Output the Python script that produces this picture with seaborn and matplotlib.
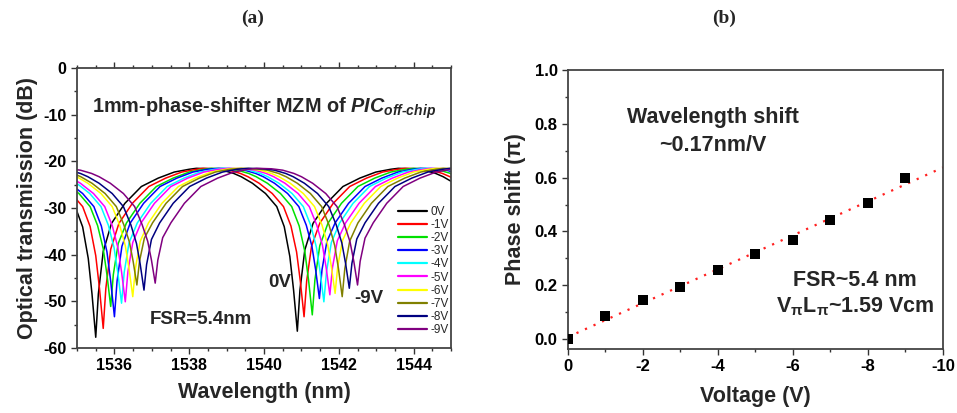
import numpy as np
import pandas as pd
import matplotlib
matplotlib.use("Agg")
import matplotlib.pyplot as plt
from matplotlib.ticker import MultipleLocator, FormatStrFormatter
import seaborn as sns

# bias voltages of the measured spectra
voltages = [0, -1, -2, -3, -4, -5, -6, -7, -8, -9]
labels = ["0V", "-1V", "-2V", "-3V", "-4V", "-5V", "-6V", "-7V", "-8V", "-9V"]
colors = ["#000000", "#ff0000", "#00e000", "#0000ff", "#00ffff",
          "#ff00ff", "#ffff00", "#808000", "#000080", "#800080"]

# notch positions / depths
dip1_nm = [1535.50, 1535.70, 1535.90, 1536.00, 1536.19, 1536.29, 1536.49, 1536.60, 1536.79, 1537.09]
dip1_db = [-57.7, -55.8, -51.1, -53.3, -50.4, -50.1, -49.0, -46.5, -47.6, -46.1]
dip2_nm = [1540.89, 1541.07, 1541.29, 1541.48, 1541.60, 1541.76, 1541.90, 1542.09, 1542.28, 1542.50]
dip2_db = [-56.4, -53.3, -52.9, -49.4, -50.1, -48.6, -48.3, -49.0, -47.2, -46.5]
fsr = 5.4

# notch profile (offset from notch in nm, level in dB)
prof_off = [-2.7, -2.3, -2.0, -1.7, -1.5, -1.2, -0.85, -0.55, -0.35, -0.2, -0.1,
            0.0, 0.07, 0.2, 0.42, 0.78, 1.22, 1.67, 2.1, 2.5]
prof_db = [-21.5, -21.6, -21.9, -22.6, -23.3, -24.7, -26.9, -29.7, -34.0, -40.4, -47.6,
           -56.4, -47.6, -39.0, -33.3, -29.0, -25.4, -23.6, -22.3, -21.7]

# panel (b): phase shift vs voltage
volt_b = [0, -1, -2, -3, -4, -5, -6, -7, -8, -9]
phase_b = [0.0, 0.084, 0.146, 0.193, 0.257, 0.317, 0.369, 0.442, 0.505, 0.598]


def notch(center, depth):
    off = np.array(prof_off)
    lev = np.array(prof_db)
    thr = -33.0
    k = (depth - thr) / (lev.min() - thr)
    lev = np.where(lev < thr, thr + (lev - thr) * k, lev)
    return center + off, lev


rows = []
for i, lab in enumerate(labels):
    for c, d in [(dip1_nm[i], dip1_db[i]), (dip2_nm[i], dip2_db[i]),
                 (dip2_nm[i] + fsr, dip2_db[i])]:
        x, y = notch(c, d)
        for xx, yy in zip(x, y):
            rows.append({"wl": xx, "db": yy, "bias": lab})
spec = pd.DataFrame(rows)

sns.set_theme(style="ticks")
plt.rcParams["font.family"] = ["Liberation Sans", "DejaVu Sans"]
plt.rcParams["font.weight"] = "bold"
plt.rcParams["axes.unicode_minus"] = False
plt.rcParams["axes.edgecolor"] = "#444444"
plt.rcParams["axes.linewidth"] = 1.3
plt.rcParams["mathtext.fontset"] = "custom"
plt.rcParams["mathtext.rm"] = "Liberation Sans:bold"
plt.rcParams["mathtext.bf"] = "Liberation Sans:bold"
plt.rcParams["mathtext.it"] = "Liberation Sans:italic:bold"
plt.rcParams["mathtext.default"] = "rm"

fig = plt.figure(figsize=(9.57, 4.13), dpi=100)
ax1 = fig.add_axes([0.0805, 0.1574, 0.3908, 0.678])
ax2 = fig.add_axes([0.5935, 0.155, 0.3918, 0.6755])

# ---- panel (a)
sns.lineplot(data=spec, x="wl", y="db", hue="bias", hue_order=labels,
             palette=colors, linewidth=1.1, ax=ax1, estimator=None, sort=True)
ax1.set_xlim(1535, 1545)
ax1.set_ylim(-60, 0)
ax1.xaxis.set_major_locator(MultipleLocator(2))
ax1.xaxis.set_minor_locator(MultipleLocator(0.5))
ax1.yaxis.set_major_locator(MultipleLocator(10))
ax1.yaxis.set_minor_locator(MultipleLocator(5))
ax1.tick_params(which="both", direction="out", top=True, colors="#333333",
                labelcolor="black", labelsize=11.5, width=1.0)
ax1.tick_params(which="major", length=4)
ax1.tick_params(which="minor", length=2.5)
ax1.set_xlabel("Wavelength (nm)", fontsize=15.5, fontweight="bold", labelpad=6)
ax1.set_ylabel("Optical transmission (dB)", fontsize=15.5, fontweight="bold", labelpad=4)
for s in ax1.spines.values():
    s.set_visible(True)

leg = ax1.legend(loc="upper left", bbox_to_anchor=(0.845, 0.525), frameon=False,
                 fontsize=8.5, handlelength=2.5, handletextpad=0.3,
                 labelspacing=0.1, borderaxespad=0)
for t in leg.get_texts():
    t.set_fontweight("normal")
for h in leg.get_lines():
    h.set_linewidth(1.6)

ax1.text(0.04, 0.84, r"1mm-phase-shifter MZM of $\it{PIC}_{\it{off\text{-}chip}}$",
         transform=ax1.transAxes, fontsize=14.3, fontweight="bold")
ax1.text(1538.3, -54.0, "FSR=5.4nm", fontsize=13.5, fontweight="bold", ha="center", va="center")
ax1.text(1540.43, -46.0, "0V", fontsize=13.5, fontweight="bold", ha="center", va="center")
ax1.text(1542.8, -49.5, "-9V", fontsize=13.5, fontweight="bold", ha="center", va="center")

# ---- panel (b)
k, b = np.polyfit(volt_b, phase_b, 1)
xf = np.array([0.0, -10.0])
ax2.plot(xf, k * xf + b, color="#ff2020", linestyle=(0, (1, 3.2)), linewidth=1.6)
sns.scatterplot(x=volt_b, y=phase_b, marker="s", color="black", s=42,
                edgecolor="black", linewidth=0, ax=ax2, zorder=3)
ax2.set_xlim(0, -10)
ax2.set_ylim(-0.037, 1.0)
ax2.xaxis.set_major_locator(MultipleLocator(2))
ax2.xaxis.set_minor_locator(MultipleLocator(1))
ax2.yaxis.set_major_locator(MultipleLocator(0.2))
ax2.yaxis.set_minor_locator(MultipleLocator(0.1))
ax2.yaxis.set_major_formatter(FormatStrFormatter("%.1f"))
ax2.tick_params(which="both", direction="out", colors="#333333",
                labelcolor="black", labelsize=12, width=1.0)
ax2.tick_params(which="major", length=4)
ax2.tick_params(which="minor", length=2.5)
ax2.set_xlabel("Voltage (V)", fontsize=15.5, fontweight="bold", labelpad=8)
ax2.set_ylabel("Phase shift (π)", fontsize=15.5, fontweight="bold", labelpad=6)
for s in ax2.spines.values():
    s.set_visible(True)

for ax in (ax1, ax2):
    for lab in ax.get_xticklabels() + ax.get_yticklabels():
        lab.set_fontweight("bold")

ax2.text(0.387, 0.828, "Wavelength shift", transform=ax2.transAxes, fontsize=15.5,
         fontweight="bold", ha="center", va="center")
ax2.text(0.387, 0.731, "~0.17nm/V", transform=ax2.transAxes, fontsize=15.5,
         fontweight="bold", ha="center", va="center")
ax2.text(0.765, 0.247, "FSR~5.4 nm", transform=ax2.transAxes, fontsize=15.5,
         fontweight="bold", ha="center", va="center")
ax2.text(0.765, 0.15, r"V$_{π}$L$_{π}$~1.59 Vcm", transform=ax2.transAxes, fontsize=15.5,
         fontweight="bold", ha="center", va="center")

# panel tags
fig.text(0.264, 0.955, "(a)", fontsize=14, fontweight="bold", ha="center", va="center",
         family=["Liberation Serif", "DejaVu Serif"])
fig.text(0.757, 0.955, "(b)", fontsize=14, fontweight="bold", ha="center", va="center",
         family=["Liberation Serif", "DejaVu Serif"])

fig.savefig("out.png", dpi=100)
